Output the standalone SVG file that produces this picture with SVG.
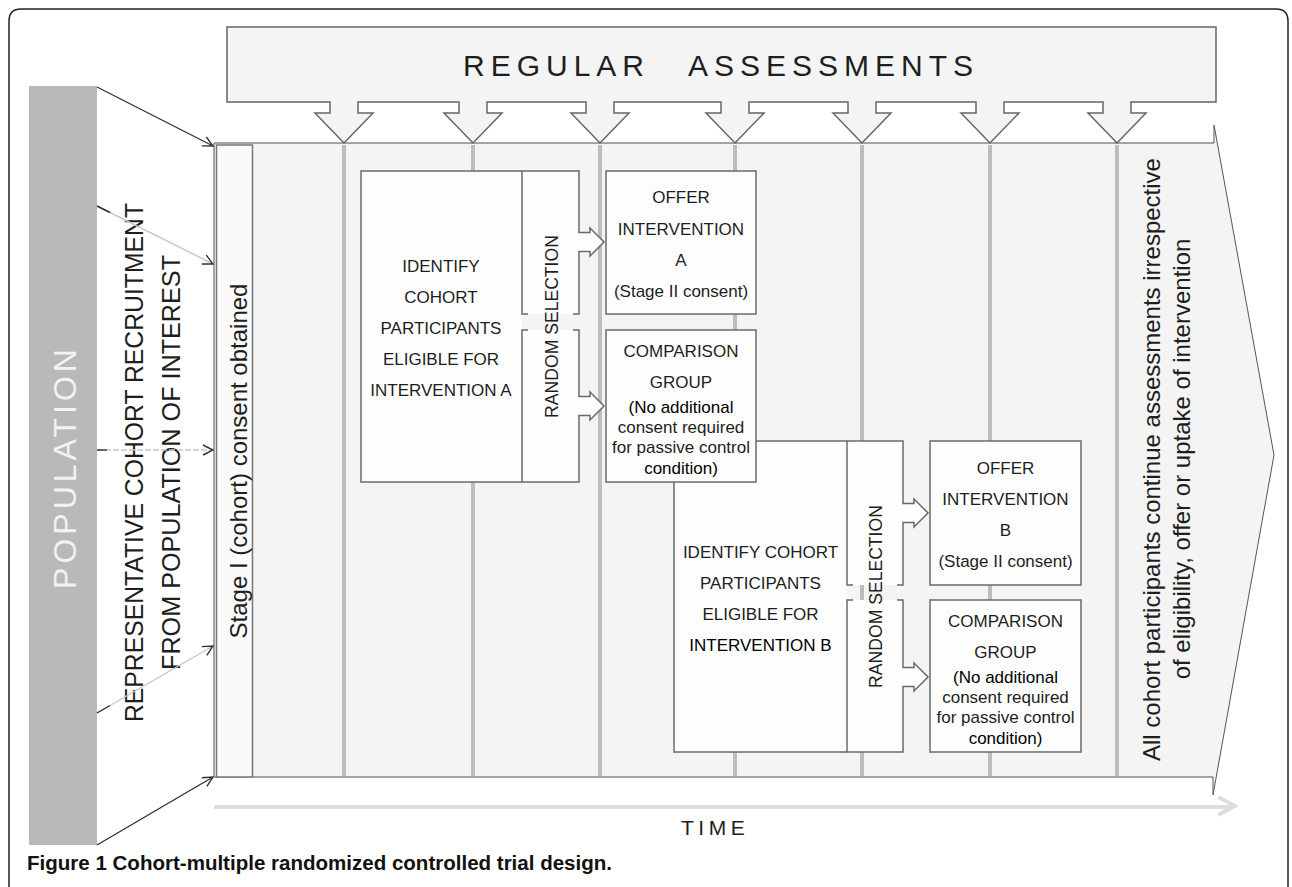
<svg xmlns="http://www.w3.org/2000/svg" width="1292" height="887" viewBox="0 0 1292 887">
<defs>
<style>
text{font-family:"Liberation Sans",Arial,sans-serif;fill:#1e1e1e}
.bx{fill:#fdfdfd;stroke:#6a6a6a;stroke-width:1.5}
.t17{font-size:17px;text-anchor:middle}
.vl{stroke:#bdbdbd;stroke-width:4}
.dk{stroke:#333;stroke-width:1.4;fill:none}
.gr{stroke:#c6c6c6;stroke-width:1.4;fill:none}
</style>
<marker id="ah" viewBox="0 0 12 12" refX="11" refY="6" markerWidth="12" markerHeight="12" orient="auto" markerUnits="userSpaceOnUse">
<path d="M1,1 L11,6 L1,11" fill="none" stroke="#333" stroke-width="1.4"/>
</marker>
</defs>
<rect width="1292" height="887" fill="#ffffff"/>
<path d="M9,887 V21 Q9,9 21,9 H1276 Q1288,9 1288,21 V887" fill="none" stroke="#222" stroke-width="1.5"/>

<g id="population">
<rect x="29" y="86" width="68" height="759" fill="#b9b9b9"/>
<text transform="translate(76,467) rotate(-90)" font-size="32" letter-spacing="4" text-anchor="middle" style="fill:#f2f2f2">POPULATION</text>
</g>

<g id="recruitment-label">
<text transform="translate(143,462.5) rotate(-90)" font-size="25" text-anchor="middle" textLength="519" lengthAdjust="spacingAndGlyphs">REPRESENTATIVE COHORT RECRUITMENT</text>
<text transform="translate(180,462.5) rotate(-90)" font-size="25" text-anchor="middle" textLength="415" lengthAdjust="spacingAndGlyphs">FROM POPULATION OF INTEREST</text>
</g>

<g id="timeline-band">
<path d="M214,143 H1214 V125 L1274,455 L1213,795 V777 H214 Z" fill="#f4f4f4"/>
<path d="M214,143 H1214 M214,777 H1213 M214,143 V777" fill="none" stroke="#888" stroke-width="1.5"/>
<path d="M1214,143 V125 L1274,455 L1213,795 V777" fill="none" stroke="#555" stroke-width="1"/>
<line class="vl" x1="344" y1="145" x2="344" y2="776"/>
<line class="vl" x1="473" y1="145" x2="473" y2="776"/>
<line class="vl" x1="600" y1="145" x2="600" y2="776"/>
<line class="vl" x1="735" y1="145" x2="735" y2="776"/>
<line class="vl" x1="862" y1="145" x2="862" y2="776"/>
<line class="vl" x1="990" y1="145" x2="990" y2="776"/>
<line class="vl" x1="1117" y1="145" x2="1117" y2="776"/>
</g>

<g id="regular-assessments">
<path d="M227,27 H1216 V102 H1131 V113 H1146 L1117,143 L1088,113 H1103 V102 H1004 V113 H1019 L990,143 L961,113 H976 V102 H876 V113 H891 L862,143 L833,113 H848 V102 H749 V113 H764 L735,143 L706,113 H721 V102 H614 V113 H629 L600,143 L571,113 H586 V102 H487 V113 H502 L473,143 L444,113 H459 V102 H358 V113 H373 L344,143 L315,113 H330 V102 H227 Z" fill="#f4f4f4" stroke="#666" stroke-width="1.5"/>
<text x="463" y="75.5" font-size="30" letter-spacing="6">REGULAR</text>
<text x="688" y="75.5" font-size="30" letter-spacing="6">ASSESSMENTS</text>
</g>

<g id="stage1-consent">
<rect x="216.5" y="145" width="36" height="632" fill="#fafafa" stroke="#777" stroke-width="1.5"/>
<text transform="translate(247,461) rotate(-90)" font-size="24" text-anchor="middle">Stage I (cohort) consent obtained</text>
</g>

<g id="identify-a">
<path class="bx" d="M522,171 H361 V482 H522"/>
<text class="t17" x="441" y="272">IDENTIFY</text>
<text class="t17" x="441" y="303">COHORT</text>
<text class="t17" x="441" y="334">PARTICIPANTS</text>
<text class="t17" x="441" y="365">ELIGIBLE FOR</text>
<text class="t17" x="441" y="396">INTERVENTION A</text>
</g>

<g id="random-selection-a">
<path class="bx" d="M528,314 H522 V171 H579 V232.5 H590 V228 L604,242 L590,256 V251.5 H579 V314 H573"/>
<path class="bx" d="M528,330 H522 V482 H579 V415.5 H590 V420 L604,406 L590,392 V396.5 H579 V330 H573"/>
<text transform="translate(558,326.5) rotate(-90)" font-size="17.6" text-anchor="middle">RANDOM SELECTION</text>
</g>

<g id="offer-a">
<rect class="bx" x="606" y="171" width="150" height="143"/>
<text class="t17" x="681" y="203">OFFER</text>
<text class="t17" x="681" y="235">INTERVENTION</text>
<text class="t17" x="681" y="266">A</text>
<text class="t17" x="681" y="297">(Stage II consent)</text>
</g>

<g id="identify-b">
<path class="bx" d="M847,441 H674 V752 H847"/>
<text class="t17" x="760.5" y="558">IDENTIFY COHORT</text>
<text class="t17" x="760.5" y="589">PARTICIPANTS</text>
<text class="t17" x="760.5" y="620">ELIGIBLE FOR</text>
<text class="t17" x="760.5" y="651" style="fill:#000">INTERVENTION B</text>
</g>

<g id="comparison-a">
<rect class="bx" x="606" y="330" width="150" height="152"/>
<text class="t17" x="681" y="357">COMPARISON</text>
<text class="t17" x="681" y="388">GROUP</text>
<text class="t17" x="681" y="413" style="fill:#000">(No additional</text>
<text class="t17" x="681" y="433">consent required</text>
<text class="t17" x="681" y="453">for passive control</text>
<text class="t17" x="681" y="474" style="fill:#000">condition)</text>
</g>

<g id="random-selection-b">
<path class="bx" d="M853,585 H847 V441 H903 V503.5 H914 V499 L928,513 L914,527 V522.5 H903 V585 H897"/>
<path class="bx" d="M853,600 H847 V752 H903 V686.5 H914 V691 L928,677 L914,663 V667.5 H903 V600 H897"/>
<text transform="translate(882,596.5) rotate(-90)" font-size="17.6" text-anchor="middle">RANDOM SELECTION</text>
</g>

<g id="offer-b">
<rect class="bx" x="930" y="441" width="151" height="144"/>
<text class="t17" x="1005.5" y="474">OFFER</text>
<text class="t17" x="1005.5" y="505">INTERVENTION</text>
<text class="t17" x="1005.5" y="536">B</text>
<text class="t17" x="1005.5" y="567">(Stage II consent)</text>
</g>

<g id="comparison-b">
<rect class="bx" x="930" y="600" width="151" height="152"/>
<text class="t17" x="1005.5" y="627">COMPARISON</text>
<text class="t17" x="1005.5" y="658">GROUP</text>
<text class="t17" x="1005.5" y="683" style="fill:#000">(No additional</text>
<text class="t17" x="1005.5" y="703">consent required</text>
<text class="t17" x="1005.5" y="723">for passive control</text>
<text class="t17" x="1005.5" y="744" style="fill:#000">condition)</text>
</g>

<g id="continue-note">
<text transform="translate(1160,459.5) rotate(-90)" font-size="24" text-anchor="middle">All cohort participants continue assessments irrespective</text>
<text transform="translate(1190,459) rotate(-90)" font-size="24" text-anchor="middle">of eligibility, offer or uptake of intervention</text>
</g>

<g id="connectors">
<line class="dk" x1="97" y1="87" x2="213" y2="146" marker-end="url(#ah)"/>
<line class="gr" x1="97" y1="206" x2="213" y2="264" marker-end="url(#ah)"/>
<line class="dk" x1="97" y1="206" x2="110" y2="212.5"/>
<line class="gr" x1="97" y1="450" x2="213" y2="450" stroke-dasharray="6 2" marker-end="url(#ah)"/>
<line class="dk" x1="97" y1="450" x2="107" y2="450"/>
<line class="gr" x1="97" y1="713" x2="213" y2="646" marker-end="url(#ah)"/>
<line class="dk" x1="97" y1="713" x2="110" y2="705.5"/>
<line class="dk" x1="97" y1="845" x2="213" y2="777" marker-end="url(#ah)"/>
<line x1="214" y1="807" x2="1233" y2="807" stroke="#dedede" stroke-width="4"/>
<polyline points="1218,797 1235,806 1218,815" fill="none" stroke="#dedede" stroke-width="4"/>
</g>

<g id="time-label">
<text x="681" y="835" font-size="21" letter-spacing="4.5">TIME</text>
</g>

<g id="caption">
<text x="27" y="870" font-size="20" font-weight="bold" textLength="585" lengthAdjust="spacingAndGlyphs" style="fill:#111">Figure 1 Cohort-multiple randomized controlled trial design.</text>
</g>
</svg>
